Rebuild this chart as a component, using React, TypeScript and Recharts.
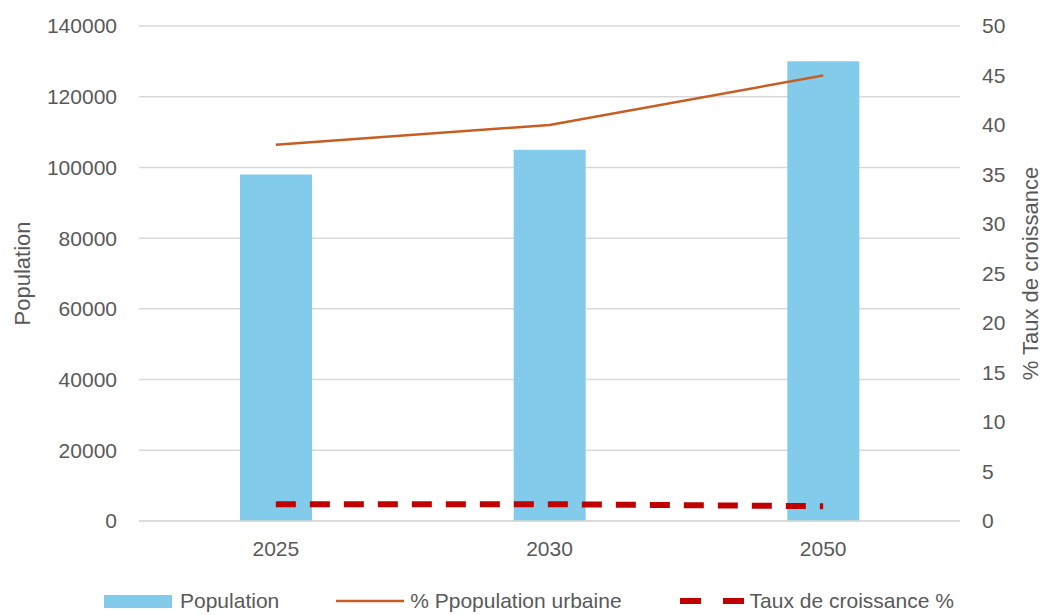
import {
  ComposedChart,
  Bar,
  Line,
  XAxis,
  YAxis,
  CartesianGrid,
  Legend,
} from "recharts";

const years = ["2025", "2030", "2050"];
const population = [98000, 105000, 130000];
const urbanShare = [38, 40, 45];
const growthRate = [1.7, 1.7, 1.5];

const leftTicks = [0, 20000, 40000, 60000, 80000, 100000, 120000, 140000];
const rightTicks = [0, 5, 10, 15, 20, 25, 30, 35, 40, 45, 50];

const data = years.map((year, i) => ({
  year,
  population: population[i],
  urban: urbanShare[i],
  growth: growthRate[i],
}));

const BAR = "#83CBEB";
const ORANGE = "#C65E24";
const RED = "#C00000";
const TEXT = "#595959";
const GRID = "#D9D9D9";
const FONT = "'Liberation Sans', Arial, sans-serif";

function AxisTitle({ viewBox, value, dx }: any) {
  const cx = viewBox.x + dx;
  const cy = viewBox.y + viewBox.height / 2;
  return (
    <text
      x={cx}
      y={cy}
      transform={`rotate(-90 ${cx} ${cy})`}
      textAnchor="middle"
      dominantBaseline="central"
      fill={TEXT}
      fontSize={22}
      fontFamily={FONT}
    >
      {value}
    </text>
  );
}

function ChartLegend() {
  const label = { fontSize: 21, color: TEXT, lineHeight: "24px" };
  return (
    <div
      style={{
        height: 44,
        display: "flex",
        alignItems: "flex-end",
        paddingLeft: 104,
        boxSizing: "border-box",
        paddingBottom: 2,
        fontFamily: FONT,
      }}
    >
      <div style={{ display: "flex", alignItems: "center", marginRight: 57 }}>
        <div style={{ width: 68, height: 13, background: BAR, marginRight: 8 }} />
        <span style={label}>Population</span>
      </div>
      <div style={{ display: "flex", alignItems: "center", marginRight: 58 }}>
        <svg width={68} height={10} style={{ marginRight: 6 }}>
          <line x1={0} x2={68} y1={5} y2={5} stroke={ORANGE} strokeWidth={2.5} />
        </svg>
        <span style={label}>% Ppopulation urbaine</span>
      </div>
      <div style={{ display: "flex", alignItems: "center" }}>
        <svg width={65} height={10} style={{ marginRight: 5 }}>
          <line
            x1={0}
            x2={65}
            y1={5}
            y2={5}
            stroke={RED}
            strokeWidth={6}
            strokeDasharray="21 22"
          />
        </svg>
        <span style={label}>Taux de croissance %</span>
      </div>
    </div>
  );
}

export default function App() {
  return (
    <div
      style={{
        position: "absolute",
        top: 0,
        left: 0,
        width: 1048,
        height: 615,
        fontFamily: FONT,
        background: "#fff",
      }}
    >
      <ComposedChart
        width={1048}
        height={615}
        data={data}
        margin={{ top: 26, right: 0, left: 0, bottom: 0 }}
      >
        <CartesianGrid yAxisId="left" vertical={false} stroke={GRID} strokeWidth={1.5} />
        <XAxis
          dataKey="year"
          axisLine={{ stroke: GRID, strokeWidth: 1.5 }}
          tickLine={false}
          tick={{ fill: TEXT, fontSize: 21 }}
          tickSize={0}
          tickMargin={20}
          height={50}
        />
        <YAxis
          yAxisId="left"
          domain={[0, 140000]}
          ticks={leftTicks}
          axisLine={false}
          tickLine={false}
          tickSize={0}
          tickMargin={22}
          width={139}
          tick={{ fill: TEXT, fontSize: 21 }}
          label={<AxisTitle value="Population" dx={22} />}
        />
        <YAxis
          yAxisId="right"
          orientation="right"
          domain={[0, 50]}
          ticks={rightTicks}
          axisLine={false}
          tickLine={false}
          tickSize={0}
          tickMargin={22}
          width={88}
          tick={{ fill: TEXT, fontSize: 21 }}
          label={<AxisTitle value="% Taux de croissance" dx={70} />}
        />
        <Legend verticalAlign="bottom" content={<ChartLegend />} />
        <Bar
          yAxisId="left"
          dataKey="population"
          name="Population"
          fill={BAR}
          barSize={72}
          isAnimationActive={false}
        />
        <Line
          yAxisId="right"
          dataKey="urban"
          name="% Ppopulation urbaine"
          stroke={ORANGE}
          strokeWidth={2.5}
          dot={false}
          activeDot={false}
          isAnimationActive={false}
        />
        <Line
          yAxisId="right"
          dataKey="growth"
          name="Taux de croissance %"
          stroke={RED}
          strokeWidth={6}
          strokeDasharray="20 14"
          dot={false}
          activeDot={false}
          isAnimationActive={false}
        />
      </ComposedChart>
    </div>
  );
}
